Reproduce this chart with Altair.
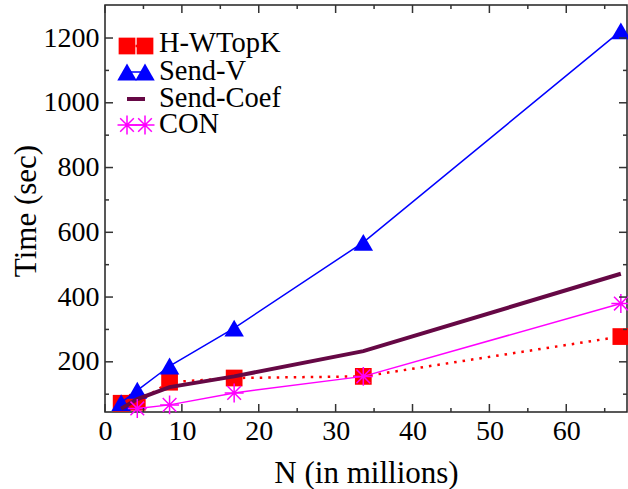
import altair as alt
import pandas as pd

# Problem size (millions of elements) and running time in seconds per method
n_millions = [2.1, 4.2, 8.4, 16.8, 33.6, 67.1]
h_wtopk = [72, 75, 137, 150, 155, 278]
send_v = [74, 112, 187, 304, 569, 1222]
send_coef = [55, 85, 122, 155, 233, 472]
con_n = [4.2, 8.4, 16.8, 33.6, 67.1]
con = [56, 67, 104, 155, 380]

series_names = ["H-WTopK", "Send-V", "Send-Coef", "CON"]

x_major = [0, 10, 20, 30, 40, 50, 60]
x_minor = [5, 15, 25, 35, 45, 55, 65]
y_major = [200, 400, 600, 800, 1000, 1200]
y_minor = [100, 300, 500, 700, 900, 1100]

X_DOMAIN = [0, 67.9]
Y_DOMAIN = [45, 1302]
W, H = 522, 407
FONT = "Liberation Serif"
STAR = "M-1,0L1,0M0,-1L0,1M-0.72,-0.72L0.72,0.72M-0.72,0.72L0.72,-0.72"

x_enc = alt.X(
    "N:Q",
    scale=alt.Scale(domain=X_DOMAIN, nice=False, zero=False),
    axis=alt.Axis(values=x_major, format="d", title="N (in millions)",
                  labelFlush=False, labelPadding=5,
                  titleX=W / 2, titleY=70, titleBaseline="alphabetic"),
)
y_enc = alt.Y(
    "T:Q",
    scale=alt.Scale(domain=Y_DOMAIN, nice=False, zero=False),
    axis=alt.Axis(values=y_major, format="d", title="Time (sec)",
                  labelPadding=6, titleX=-79, titleY=H / 2 + 2,
                  titleBaseline="middle", titleAngle=-90),
)


def frame(n, t):
    return pd.DataFrame({"N": n, "T": t})


df_h = frame(n_millions, h_wtopk)
df_v = frame(n_millions, send_v)
df_c = frame(n_millions, send_coef)
df_con = frame(con_n, con)

SQ_SIZE, TRI_SIZE, STAR_SIZE = 280, 380, 360

layers = []

# H-WTopK: red squares on a dotted red line
layers.append(alt.Chart(df_h).mark_line(color="#ff0000", strokeWidth=2.5,
                                        strokeDash=[2.5, 6], strokeCap="butt")
              .encode(x=x_enc, y=y_enc))
layers.append(alt.Chart(df_h).mark_point(shape="square", filled=True, size=SQ_SIZE,
                                         color="#ff0000", opacity=1)
              .encode(x="N:Q", y="T:Q"))

# Send-V: blue triangles on a thin blue line
layers.append(alt.Chart(df_v).mark_line(color="#0000ff", strokeWidth=1.5)
              .encode(x="N:Q", y="T:Q"))
layers.append(alt.Chart(df_v).mark_point(shape="triangle-up", filled=True, size=TRI_SIZE,
                                         color="#0000ff", opacity=1)
              .encode(x="N:Q", y="T:Q"))

# Send-Coef: thick dark line, no markers
layers.append(alt.Chart(df_c).mark_line(color="#660845", strokeWidth=4)
              .encode(x="N:Q", y="T:Q"))

# CON: magenta asterisks on a thin magenta line
layers.append(alt.Chart(df_con).mark_line(color="#ff00ff", strokeWidth=1.5)
              .encode(x="N:Q", y="T:Q"))
layers.append(alt.Chart(df_con).mark_point(shape=STAR, filled=False, size=STAR_SIZE,
                                           color="#ff00ff", strokeWidth=1.5, opacity=1)
              .encode(x="N:Q", y="T:Q"))

# Inward-facing ticks on all four sides
tick_style = dict(color="#333333", strokeWidth=1.5)
for vals, ln in ((x_major, 8), (x_minor, 4)):
    d = pd.DataFrame({"N": vals})
    layers.append(alt.Chart(d).mark_rule(**tick_style)
                  .encode(x="N:Q", y=alt.value(H), y2=alt.value(H - ln)))
    layers.append(alt.Chart(d).mark_rule(**tick_style)
                  .encode(x="N:Q", y=alt.value(0), y2=alt.value(ln)))
for vals, ln in ((y_major, 8), (y_minor, 4)):
    d = pd.DataFrame({"T": vals})
    layers.append(alt.Chart(d).mark_rule(**tick_style)
                  .encode(y="T:Q", x=alt.value(0), x2=alt.value(ln)))
    layers.append(alt.Chart(d).mark_rule(**tick_style)
                  .encode(y="T:Q", x=alt.value(W), x2=alt.value(W - ln)))

# Key in the upper-left corner
key_rows = [38, 66, 93, 119]
sx1, sx2, tx = 22, 40, 54
one = pd.DataFrame({"k": [0]})

# H-WTopK key
layers.append(alt.Chart(one).mark_rule(color="#ff0000", strokeWidth=2.5, strokeDash=[2.5, 6])
              .encode(x=alt.value(sx1), x2=alt.value(sx2), y=alt.value(key_rows[0] + 3)))
for sx in (sx1, sx2):
    layers.append(alt.Chart(one).mark_point(shape="square", filled=True, size=SQ_SIZE,
                                            color="#ff0000", opacity=1)
                  .encode(x=alt.value(sx), y=alt.value(key_rows[0] + 3)))
# Send-V key
layers.append(alt.Chart(one).mark_rule(color="#0000ff", strokeWidth=1.5)
              .encode(x=alt.value(sx1), x2=alt.value(sx2), y=alt.value(key_rows[1] + 1)))
for sx in (sx1, sx2):
    layers.append(alt.Chart(one).mark_point(shape="triangle-up", filled=True, size=TRI_SIZE,
                                            color="#0000ff", opacity=1)
                  .encode(x=alt.value(sx), y=alt.value(key_rows[1] + 1)))
# Send-Coef key
layers.append(alt.Chart(one).mark_rule(color="#660845", strokeWidth=4)
              .encode(x=alt.value(sx1), x2=alt.value(sx2), y=alt.value(key_rows[2] + 1)))
# CON key
layers.append(alt.Chart(one).mark_rule(color="#ff00ff", strokeWidth=1.5)
              .encode(x=alt.value(sx1), x2=alt.value(sx2), y=alt.value(key_rows[3] + 1)))
for sx in (sx1, sx2):
    layers.append(alt.Chart(one).mark_point(shape=STAR, filled=False, size=STAR_SIZE,
                                            color="#ff00ff", strokeWidth=1.5, opacity=1)
                  .encode(x=alt.value(sx), y=alt.value(key_rows[3] + 1)))

for name, ry in zip(series_names, key_rows):
    layers.append(alt.Chart(pd.DataFrame({"s": [name]}))
                  .mark_text(font=FONT, fontSize=28.5, align="left", baseline="middle",
                             color="black")
                  .encode(text="s:N", x=alt.value(tx), y=alt.value(ry)))

chart = (
    alt.layer(*layers)
    .properties(width=W, height=H, autosize="none",
                padding={"left": 105, "top": 5, "right": 1, "bottom": 77})
    .configure_view(stroke="#222222", strokeWidth=1.5)
    .configure_axis(labelFont=FONT, labelFontSize=28, labelColor="black",
                    titleFont=FONT, titleFontSize=31, titleFontWeight="normal",
                    titleColor="black", domain=False, ticks=False, grid=False)
)

chart.save("out.html", embed_options={"renderer": "svg", "actions": False})
